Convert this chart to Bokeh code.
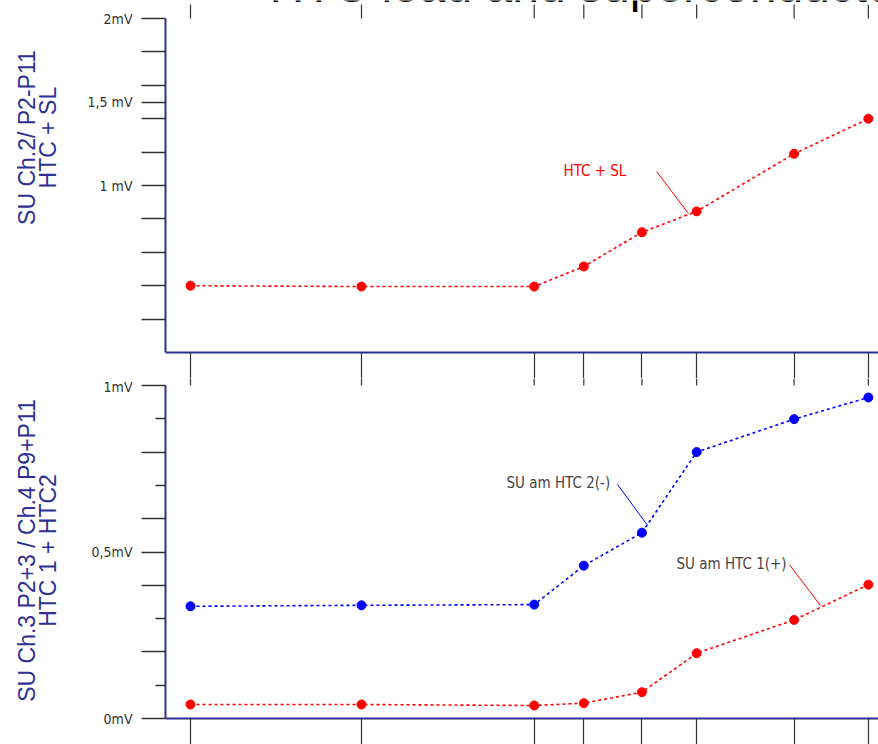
import math
from bokeh.plotting import figure
from bokeh.layouts import column
from bokeh.models import Range1d, FixedTicker, Label
from bokeh.embed import file_html
from bokeh.resources import INLINE

# ---- data ----
x_steps = [0, 500, 1005, 1150, 1320, 1480, 1765, 1982]
htc_sl = [0.40, 0.395, 0.395, 0.515, 0.72, 0.845, 1.19, 1.40]          # top panel, mV
su_htc2 = [0.337, 0.340, 0.342, 0.459, 0.558, 0.800, 0.899, 0.964]     # bottom panel, mV
su_htc1 = [0.042, 0.042, 0.039, 0.046, 0.079, 0.196, 0.296, 0.402]     # bottom panel, mV

top_major = [1.0, 1.5, 2.0]
top_minor = [0.2, 0.4, 0.6, 0.8, 1.2, 1.4, 1.6, 1.8]
top_labels = {1.0: "1 mV", 1.5: "1,5 mV", 2.0: "2mV"}
bot_major = [0.0, 0.2, 0.4, 0.5, 0.6, 0.8, 1.0]
bot_minor = [0.1, 0.3, 0.7, 0.9]
bot_labels = {0.0: "0mV", 0.2: "", 0.4: "", 0.5: "0,5mV", 0.6: "", 0.8: "", 1.0: "1mV"}

NAVY = "#2e3192"
TICK = "#333333"
RED = "#ff0000"
BLUE = "#0000ff"
NARROW = "DejaVu Sans Condensed"
SANS = "Liberation Sans"
W = 878
PX_PER_X = 0.342                  # screen px per x unit
X0_PX = 190                       # screen x of x = 0
XR = ((0 - X0_PX) / PX_PER_X, (W - X0_PX) / PX_PER_X)
Y_AXIS_AT = (165 - X0_PX) / PX_PER_X   # data x where the y axes stand
PX_PER_MV_TOP = 167.0
PX_PER_MV_BOT = 333.0


def xpx(px):
    return (px - X0_PX) / PX_PER_X


def style_base(p):
    p.outline_line_color = None
    p.xgrid.visible = False
    p.ygrid.visible = False
    p.background_fill_color = "white"
    p.border_fill_color = "white"


def style_yaxis(ax, major, minor, labels, minor_out, bounds):
    ax.fixed_location = Y_AXIS_AT
    ax.bounds = bounds
    ax.ticker = FixedTicker(ticks=major, minor_ticks=minor)
    ax.major_label_overrides = labels
    ax.axis_line_color = NAVY
    ax.axis_line_width = 2
    ax.major_tick_in = 0
    ax.major_tick_out = 24
    ax.minor_tick_in = 0
    ax.minor_tick_out = minor_out
    ax.major_tick_line_color = TICK
    ax.minor_tick_line_color = TICK
    ax.major_tick_line_width = 1.5
    ax.minor_tick_line_width = 1.5
    ax.major_label_standoff = 9
    ax.major_label_text_font = NARROW
    ax.major_label_text_font_size = "14px"
    ax.major_label_text_color = "#333333"


def style_xaxis(ax, tick_out):
    ax.ticker = FixedTicker(ticks=x_steps, minor_ticks=[])
    ax.major_label_overrides = {v: "" for v in x_steps}
    ax.major_label_text_font_size = "0px"
    ax.major_label_standoff = 0
    ax.axis_line_color = NAVY
    ax.axis_line_width = 2
    ax.major_tick_in = 0
    ax.major_tick_out = tick_out
    ax.major_tick_line_color = TICK
    ax.major_tick_line_width = 1.2
    ax.minor_tick_line_color = None
    ax.bounds = (Y_AXIS_AT, XR[1] + 100)


def side_label(text, px, y):
    return Label(x=xpx(px), y=y, text=text, angle=math.pi / 2,
                 text_color=NAVY, text_font=SANS, text_font_size="23px",
                 text_align="center", text_baseline="middle")


# ---------------- top panel ----------------
p1 = figure(width=W, height=378, output_backend="svg", toolbar_location=None,
            x_range=Range1d(*XR), y_range=Range1d(0, 352 / PX_PER_MV_TOP),
            min_border_left=0, min_border_right=0, min_border_top=0, min_border_bottom=26)
style_base(p1)
style_yaxis(p1.yaxis[0], top_major, top_minor, top_labels, 24, (0, 2))
style_xaxis(p1.xaxis[0], 26)

# short tick marks above the 2 mV level (tick row of the slide above)
top_tick_y0 = [2.0] * len(x_steps)
top_tick_y1 = [2.0 + 14 / PX_PER_MV_TOP] * len(x_steps)
p1.segment(x0=x_steps, y0=top_tick_y0, x1=x_steps, y1=top_tick_y1,
           line_color=TICK, line_width=1.2)

p1.add_layout(Label(x=231, y=2.198, text="HTC lead and superconductor",
                    text_color="black", text_font=SANS, text_font_size="48px",
                    text_align="left", text_baseline="middle"))

p1.line(x_steps, htc_sl, line_color=RED, line_width=1.6, line_dash="3 3")
p1.scatter(x_steps, htc_sl, size=9, fill_color=RED, line_color=RED)

p1.segment(x0=[1362.6], y0=[1.084], x1=[1456.1], y1=[0.832], line_color=RED, line_width=1)
p1.add_layout(Label(x=1090.6, y=1.084, text="HTC  + SL", text_color=RED,
                    text_font=NARROW, text_font_size="15px",
                    text_align="left", text_baseline="middle"))

p1.add_layout(side_label("SU Ch.2/ P2-P11", 26, 1.287))
p1.add_layout(side_label("HTC + SL", 47, 1.287))

# ---------------- bottom panel ----------------
p2 = figure(width=W, height=366, output_backend="svg", toolbar_location=None,
            x_range=Range1d(*XR),
            y_range=Range1d(-26 / PX_PER_MV_BOT, 1 + 7 / PX_PER_MV_BOT),
            min_border_left=0, min_border_right=0, min_border_top=0, min_border_bottom=0)
style_base(p2)
style_yaxis(p2.yaxis[0], bot_major, bot_minor, bot_labels, 10, (0, 1))
style_xaxis(p2.xaxis[0], 26)
p2.xaxis[0].fixed_location = 0

# continuation of the upper panel's x tick marks down to the 1 mV level
bot_tick_y0 = [1.0] * len(x_steps)
bot_tick_y1 = [1 + 7 / PX_PER_MV_BOT] * len(x_steps)
p2.segment(x0=x_steps, y0=bot_tick_y0, x1=x_steps, y1=bot_tick_y1,
           line_color=TICK, line_width=1.2)

p2.line(x_steps, su_htc2, line_color=BLUE, line_width=1.6, line_dash="3 3")
p2.scatter(x_steps, su_htc2, size=9, fill_color=BLUE, line_color=BLUE)
p2.line(x_steps, su_htc1, line_color=RED, line_width=1.6, line_dash="3 3")
p2.scatter(x_steps, su_htc1, size=9, fill_color=RED, line_color=RED)

p2.segment(x0=[1248.5], y0=[0.703], x1=[1336.3], y1=[0.580], line_color=BLUE, line_width=1)
p2.segment(x0=[1751.5], y0=[0.462], x1=[1842.1], y1=[0.339], line_color=RED, line_width=1)
p2.add_layout(Label(x=924, y=0.706, text="SU am HTC 2(-)", text_color="#444444",
                    text_font=NARROW, text_font_size="15px",
                    text_align="left", text_baseline="middle"))
p2.add_layout(Label(x=1421, y=0.465, text="SU am HTC 1(+)", text_color="#444444",
                    text_font=NARROW, text_font_size="15px",
                    text_align="left", text_baseline="middle"))

p2.add_layout(side_label("SU Ch.3 P2+3 / Ch.4 P9+P11", 26, 0.5045))
p2.add_layout(side_label("HTC 1 + HTC2", 47, 0.5045))

layout = column(p1, p2, spacing=0)
open("out.html", "w").write(file_html(layout, INLINE))
